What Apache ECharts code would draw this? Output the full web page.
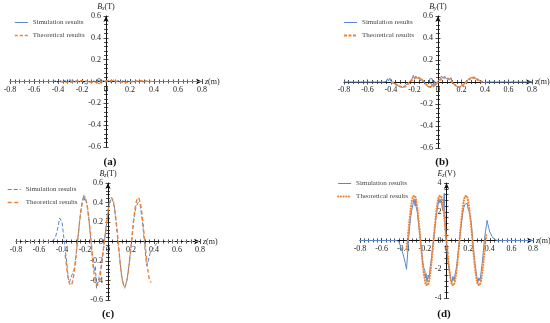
<!DOCTYPE html>
<html><head><meta charset="utf-8">
<script src="https://cdn.jsdelivr.net/npm/echarts@6/dist/echarts.min.js"></script>
<style>html,body{margin:0;padding:0;background:#fff}#c{width:550px;height:323px}</style>
</head><body><div id="c"></div>
<script>
// ---------- data ----------
const legendNames = ['Simulation results', 'Theoretical results'];
const captions = ['(a)', '(b)', '(c)', '(d)'];
const yNames = ['{i|B}{s|x}(T)', '{i|B}{s|y}(T)', '{i|B}{s|z}(T)', '{i|E}{s|z}(V)'];
const xName = '{i|z}(m)';

// (a) Bx
const simA = [[-0.8,0],[-0.6,0],[-0.45,0],[-0.42,0.005],[-0.40,-0.01],[-0.38,0.008],[-0.36,-0.005],[-0.34,0.01],[-0.32,-0.012],[-0.30,0.02],[-0.29,-0.01],[-0.28,0.015],[-0.26,-0.008],[-0.24,0.01],[-0.22,-0.005],[-0.20,0.008],[-0.18,-0.015],[-0.17,-0.03],[-0.16,-0.025],[-0.15,0.0],[-0.14,0.01],[-0.12,-0.008],[-0.10,0.006],[-0.08,-0.01],[-0.06,0.008],[-0.04,-0.006],[-0.02,0.01],[0.0,-0.008],[0.02,0.012],[0.04,-0.005],[0.06,0.015],[0.08,-0.006],[0.10,0.01],[0.12,-0.01],[0.14,0.008],[0.16,-0.008],[0.18,0.006],[0.20,-0.005],[0.22,0.004],[0.24,-0.004],[0.26,0.003],[0.30,-0.002],[0.35,0],[0.6,0],[0.8,0]];
const thA = [[-0.38,0],[-0.34,-0.006],[-0.30,-0.008],[-0.26,0.002],[-0.22,0.007],[-0.18,0.006],[-0.14,-0.003],[-0.10,-0.007],[-0.06,-0.006],[-0.02,0.002],[0.02,0.007],[0.06,0.007],[0.10,-0.002],[0.14,-0.006],[0.18,-0.007],[0.22,-0.002],[0.26,0.005],[0.30,0.006],[0.34,0.003],[0.38,0]];

// (b) By
const simB = [[-0.8,0],[-0.6,0],[-0.46,0],[-0.44,0.005],[-0.43,0.03],[-0.42,0.01],[-0.41,0.035],[-0.40,0.005],[-0.39,0.02],[-0.38,-0.01],[-0.36,-0.02],[-0.34,-0.035],[-0.32,-0.04],[-0.30,-0.05],[-0.28,-0.035],[-0.26,-0.015],[-0.24,0.005],[-0.22,0.03],[-0.21,0.06],[-0.20,0.03],[-0.19,0.055],[-0.18,0.035],[-0.16,0.04],[-0.15,0.01],[-0.14,0.03],[-0.12,0.0],[-0.10,-0.02],[-0.09,-0.04],[-0.08,-0.03],[-0.06,-0.05],[-0.05,-0.02],[-0.04,-0.04],[-0.03,0.01],[-0.02,-0.03],[0.0,0.01],[0.02,0.03],[0.03,0.055],[0.04,0.035],[0.06,0.05],[0.07,0.03],[0.08,0.045],[0.10,0.02],[0.11,0.04],[0.12,0.0],[0.14,-0.025],[0.16,-0.04],[0.18,-0.05],[0.20,-0.035],[0.21,-0.045],[0.22,-0.02],[0.24,0.005],[0.26,0.025],[0.28,0.04],[0.29,0.055],[0.30,0.035],[0.31,0.05],[0.32,0.03],[0.34,0.02],[0.36,0.005],[0.38,0.0],[0.40,-0.005],[0.42,0],[0.6,0],[0.8,0]];
const thB = [[-0.40,0],[-0.38,-0.008],[-0.36,-0.02],[-0.34,-0.033],[-0.32,-0.042],[-0.30,-0.045],[-0.28,-0.039],[-0.26,-0.022],[-0.24,0],[-0.22,0.021],[-0.20,0.036],[-0.18,0.042],[-0.16,0.036],[-0.14,0.021],[-0.12,0],[-0.10,-0.022],[-0.08,-0.039],[-0.06,-0.045],[-0.04,-0.039],[-0.02,-0.022],[0.0,0],[0.02,0.021],[0.04,0.036],[0.06,0.042],[0.08,0.036],[0.10,0.021],[0.12,0],[0.14,-0.022],[0.16,-0.039],[0.18,-0.045],[0.20,-0.039],[0.22,-0.022],[0.24,0],[0.26,0.02],[0.28,0.035],[0.30,0.04],[0.32,0.035],[0.34,0.02],[0.36,0.008],[0.38,0]];

// (c) Bz
const simC = [[-0.8,0],[-0.7,0],[-0.6,0],[-0.5,0],[-0.48,0.01],[-0.46,0.03],[-0.44,0.12],[-0.42,0.24],[-0.41,0.25],[-0.40,0.2],[-0.38,0.0],[-0.36,-0.2],[-0.345,-0.38],[-0.335,-0.42],[-0.325,-0.38],[-0.315,-0.40],[-0.30,-0.3],[-0.29,-0.27],[-0.265,0.0],[-0.24,0.28],[-0.225,0.40],[-0.21,0.48],[-0.205,0.42],[-0.20,0.46],[-0.185,0.40],[-0.17,0.27],[-0.148,0.0],[-0.13,-0.25],[-0.12,-0.30],[-0.11,-0.25],[-0.10,-0.48],[-0.093,-0.47],[-0.08,-0.38],[-0.055,-0.23],[-0.032,0.0],[-0.01,0.2],[0.01,0.38],[0.03,0.44],[0.05,0.4],[0.07,0.21],[0.088,0.0],[0.11,-0.27],[0.125,-0.40],[0.145,-0.48],[0.165,-0.40],[0.185,-0.22],[0.205,0.0],[0.225,0.23],[0.245,0.36],[0.262,0.40],[0.28,0.37],[0.30,0.2],[0.32,-0.05],[0.335,-0.25],[0.35,-0.2],[0.37,-0.1],[0.39,-0.08],[0.41,-0.04],[0.43,-0.01],[0.45,0],[0.6,0],[0.8,0]];
const thC = [[-0.372,-0.14],[-0.35,-0.345],[-0.335,-0.43],[-0.324,-0.45],[-0.31,-0.42],[-0.29,-0.275],[-0.265,0.0],[-0.24,0.27],[-0.225,0.39],[-0.205,0.455],[-0.185,0.39],[-0.17,0.27],[-0.148,0.02],[-0.125,-0.29],[-0.11,-0.40],[-0.093,-0.45],[-0.075,-0.40],[-0.055,-0.235],[-0.032,0.0],[-0.01,0.214],[0.01,0.387],[0.03,0.45],[0.05,0.387],[0.07,0.214],[0.088,0.0],[0.11,-0.27],[0.125,-0.395],[0.145,-0.46],[0.165,-0.395],[0.185,-0.22],[0.205,0.0],[0.225,0.245],[0.245,0.40],[0.262,0.45],[0.28,0.40],[0.30,0.235],[0.32,0.0],[0.34,-0.225],[0.36,-0.39],[0.375,-0.42]];

// (d) Ez
const simD = [[-0.8,0],[-0.6,0],[-0.46,0],[-0.44,-0.1],[-0.42,-0.5],[-0.40,-1.0],[-0.38,-1.6],[-0.37,-2.0],[-0.36,-1.0],[-0.35,0.2],[-0.34,1.0],[-0.33,1.7],[-0.32,2.2],[-0.31,2.5],[-0.30,2.9],[-0.29,2.4],[-0.285,2.8],[-0.28,2.3],[-0.27,2.0],[-0.26,1.3],[-0.25,0.6],[-0.24,-0.1],[-0.23,-0.8],[-0.22,-1.5],[-0.21,-1.9],[-0.20,-2.1],[-0.195,-2.6],[-0.19,-2.3],[-0.18,-2.9],[-0.17,-2.4],[-0.16,-2.6],[-0.15,-1.8],[-0.14,-1.3],[-0.13,-0.6],[-0.12,0.0],[-0.11,0.7],[-0.10,1.4],[-0.09,2.0],[-0.08,2.4],[-0.07,2.9],[-0.06,2.6],[-0.05,2.9],[-0.04,2.3],[-0.035,2.1],[-0.03,2.6],[-0.02,3.3],[-0.015,1.5],[-0.01,0.5],[0.0,-0.3],[0.01,-1.2],[0.02,-1.8],[0.03,-2.2],[0.04,-2.7],[0.05,-2.9],[0.06,-2.5],[0.07,-2.8],[0.08,-2.3],[0.09,-2.0],[0.10,-1.4],[0.11,-0.7],[0.12,0.0],[0.13,0.7],[0.14,1.3],[0.15,1.9],[0.16,2.3],[0.17,2.5],[0.18,2.4],[0.19,2.6],[0.20,2.2],[0.21,2.0],[0.22,2.1],[0.23,1.2],[0.24,0.2],[0.25,-0.7],[0.26,-1.4],[0.27,-2.0],[0.28,-2.5],[0.29,-2.9],[0.30,-2.6],[0.31,-2.8],[0.32,-2.2],[0.33,-1.6],[0.34,-0.8],[0.35,0.0],[0.36,0.6],[0.37,1.1],[0.375,1.4],[0.38,1.2],[0.39,0.9],[0.40,0.6],[0.42,0.3],[0.44,0.1],[0.46,0.02],[0.5,0],[0.8,0]];
const thD = [[-0.37,-0.6],[-0.36,0],[-0.35,0.83],[-0.34,1.6],[-0.33,2.26],[-0.32,2.77],[-0.31,3.09],[-0.30,3.2],[-0.29,3.09],[-0.28,2.77],[-0.27,2.26],[-0.26,1.6],[-0.25,0.83],[-0.24,0],[-0.23,-0.83],[-0.22,-1.6],[-0.21,-2.26],[-0.20,-2.77],[-0.19,-3.09],[-0.18,-3.2],[-0.17,-3.09],[-0.16,-2.77],[-0.15,-2.26],[-0.14,-1.6],[-0.13,-0.83],[-0.12,0],[-0.11,0.83],[-0.10,1.6],[-0.09,2.26],[-0.08,2.77],[-0.07,3.09],[-0.06,3.2],[-0.05,3.09],[-0.04,2.77],[-0.03,2.26],[-0.02,1.6],[-0.01,0.83],[0.0,0],[0.01,-0.83],[0.02,-1.6],[0.03,-2.26],[0.04,-2.77],[0.05,-3.09],[0.06,-3.2],[0.07,-3.09],[0.08,-2.77],[0.09,-2.26],[0.10,-1.6],[0.11,-0.83],[0.12,0],[0.13,0.83],[0.14,1.6],[0.15,2.26],[0.16,2.77],[0.17,3.09],[0.18,3.2],[0.19,3.09],[0.20,2.77],[0.21,2.26],[0.22,1.6],[0.23,0.83],[0.24,0],[0.25,-0.83],[0.26,-1.6],[0.27,-2.26],[0.28,-2.77],[0.29,-3.09],[0.30,-3.2],[0.31,-3.09],[0.32,-2.77],[0.33,-2.26],[0.34,-1.6],[0.35,-0.83],[0.36,0],[0.37,0.5]];

// ---------- layout / style ----------
const FONT = '"Liberation Serif","DejaVu Serif",serif';
const BLUE = '#5a86cf', ORANGE = '#ee8433';
const panels = [
  {grid:{left:10,top:16,width:192,height:131}, y:[-0.6,0.6,0.2], sim:simA, th:thA,
   simLine:{type:'solid',width:1}, thLine:{type:[3,2],width:1.6}, smooth:false, leg:{left:14,top:19}, cap:[110,162]},
  {grid:{left:344,top:16,width:188,height:132}, y:[-0.6,0.6,0.2], sim:simB, th:thB,
   simLine:{type:'solid',width:1}, thLine:{type:[3,1.5],width:2}, smooth:0.3, leg:{left:343,top:19}, cap:[442,162]},
  {grid:{left:16,top:183,width:184,height:117}, y:[-0.6,0.6,0.2], sim:simC, th:thC,
   simLine:{type:[4,2],width:1}, thLine:{type:[4,2.5],width:1.4}, smooth:0.35, leg:{left:7,top:186}, cap:[108,314]},
  {grid:{left:360,top:183,width:173,height:115}, y:[-4,4,2], sim:simD, th:thD,
   simLine:{type:'solid',width:1}, thLine:{type:[0.1,2.6],width:2.2,cap:'round'}, smooth:false, leg:{left:337,top:180}, cap:[444,314]}
];

const richName = {
  i:{fontStyle:'italic', fontFamily:FONT, fontSize:8, color:'#222'},
  s:{fontStyle:'italic', fontFamily:FONT, fontSize:5.5, color:'#222', padding:[4,0,0,0]}
};
const tickStyle = {color:'#222', width:0.8};

const option = {
  animation:false,
  textStyle:{fontFamily:FONT},
  grid:[], xAxis:[], yAxis:[], series:[], legend:[], graphic:[]
};

panels.forEach((p, k) => {
  option.grid.push(Object.assign({outerBoundsMode:'none', containLabel:false}, p.grid));
  // axes are moved onto the zero lines of the (symmetric) ranges with an offset
  const xOff = -p.grid.height / 2, yOff = -p.grid.width / 2;
  const xb = {gridIndex:k, type:'value', min:-0.8, max:0.8, interval:0.2, splitLine:{show:false}, position:'bottom', offset:xOff};
  const yb = {gridIndex:k, type:'value', min:p.y[0], max:p.y[1], interval:p.y[2], splitLine:{show:false}, position:'left', offset:yOff};
  option.xAxis.push(Object.assign({}, xb, {
    name:xName, nameLocation:'end', nameGap:3,
    nameTextStyle:{fontFamily:FONT, fontSize:8, color:'#222', rich:richName},
    axisLine:{show:true, onZero:false, symbol:['none','arrow'], symbolSize:[4,6], lineStyle:{color:'#111', width:1}},
    axisTick:{show:true, inside:false, length:2.5, lineStyle:tickStyle},
    minorTick:{show:true, splitNumber:5, length:2, lineStyle:tickStyle},
    axisLabel:{show:true, margin:4, fontSize:8, fontFamily:FONT, color:'#222', showMinLabel:true, showMaxLabel:true, hideOverlap:false}
  }));
  option.xAxis.push(Object.assign({}, xb, {
    axisLine:{show:false, onZero:false},
    axisTick:{show:true, inside:true, length:2.5, lineStyle:tickStyle},
    minorTick:{show:true, splitNumber:5, length:2, lineStyle:tickStyle},
    axisLabel:{show:false}
  }));
  option.yAxis.push(Object.assign({}, yb, {
    name:yNames[k], nameLocation:'end', nameGap:4,
    nameTextStyle:{fontFamily:FONT, fontSize:8, color:'#222', rich:richName},
    axisLine:{show:true, onZero:false, symbol:['none','arrow'], symbolSize:[4,6], lineStyle:{color:'#111', width:1}},
    axisTick:{show:true, inside:false, length:2.5, lineStyle:tickStyle},
    minorTick:{show:true, splitNumber:5, length:2, lineStyle:tickStyle},
    axisLabel:{show:true, margin:5, fontSize:8, fontFamily:FONT, color:'#222', showMinLabel:true, showMaxLabel:true, hideOverlap:false}
  }));
  option.yAxis.push(Object.assign({}, yb, {
    axisLine:{show:false, onZero:false},
    axisTick:{show:true, inside:true, length:2.5, lineStyle:tickStyle},
    minorTick:{show:true, splitNumber:5, length:2, lineStyle:tickStyle},
    axisLabel:{show:false}
  }));
  option.series.push({
    type:'line', name:legendNames[0], xAxisIndex:2*k, yAxisIndex:2*k, data:p.sim,
    symbol:'none', color:BLUE, lineStyle:Object.assign({color:BLUE}, p.simLine), z:3
  });
  option.series.push({
    type:'line', name:legendNames[1], xAxisIndex:2*k, yAxisIndex:2*k, data:p.th,
    symbol:'none', smooth:p.smooth, color:ORANGE, lineStyle:Object.assign({color:ORANGE}, p.thLine), z:4
  });
  option.legend.push({
    orient:'vertical', left:p.leg.left, top:p.leg.top, padding:0, itemWidth:13, itemHeight:8, itemGap:6,
    selectedMode:false,
    textStyle:{fontFamily:FONT, fontSize:7, color:'#444'},
    data:[
      {name:legendNames[0], itemStyle:{opacity:0}, lineStyle:Object.assign({color:BLUE}, p.simLine)},
      {name:legendNames[1], itemStyle:{opacity:0}, lineStyle:Object.assign({color:ORANGE}, p.thLine)}
    ]
  });
  option.graphic.push({
    type:'text', x:p.cap[0], y:p.cap[1],
    style:{text:captions[k], fontFamily:FONT, fontSize:11, fontWeight:'bold', fill:'#111', align:'center', verticalAlign:'middle'}
  });
});

const chart = echarts.init(document.getElementById('c'));
chart.setOption(option);
</script>
</body></html>
